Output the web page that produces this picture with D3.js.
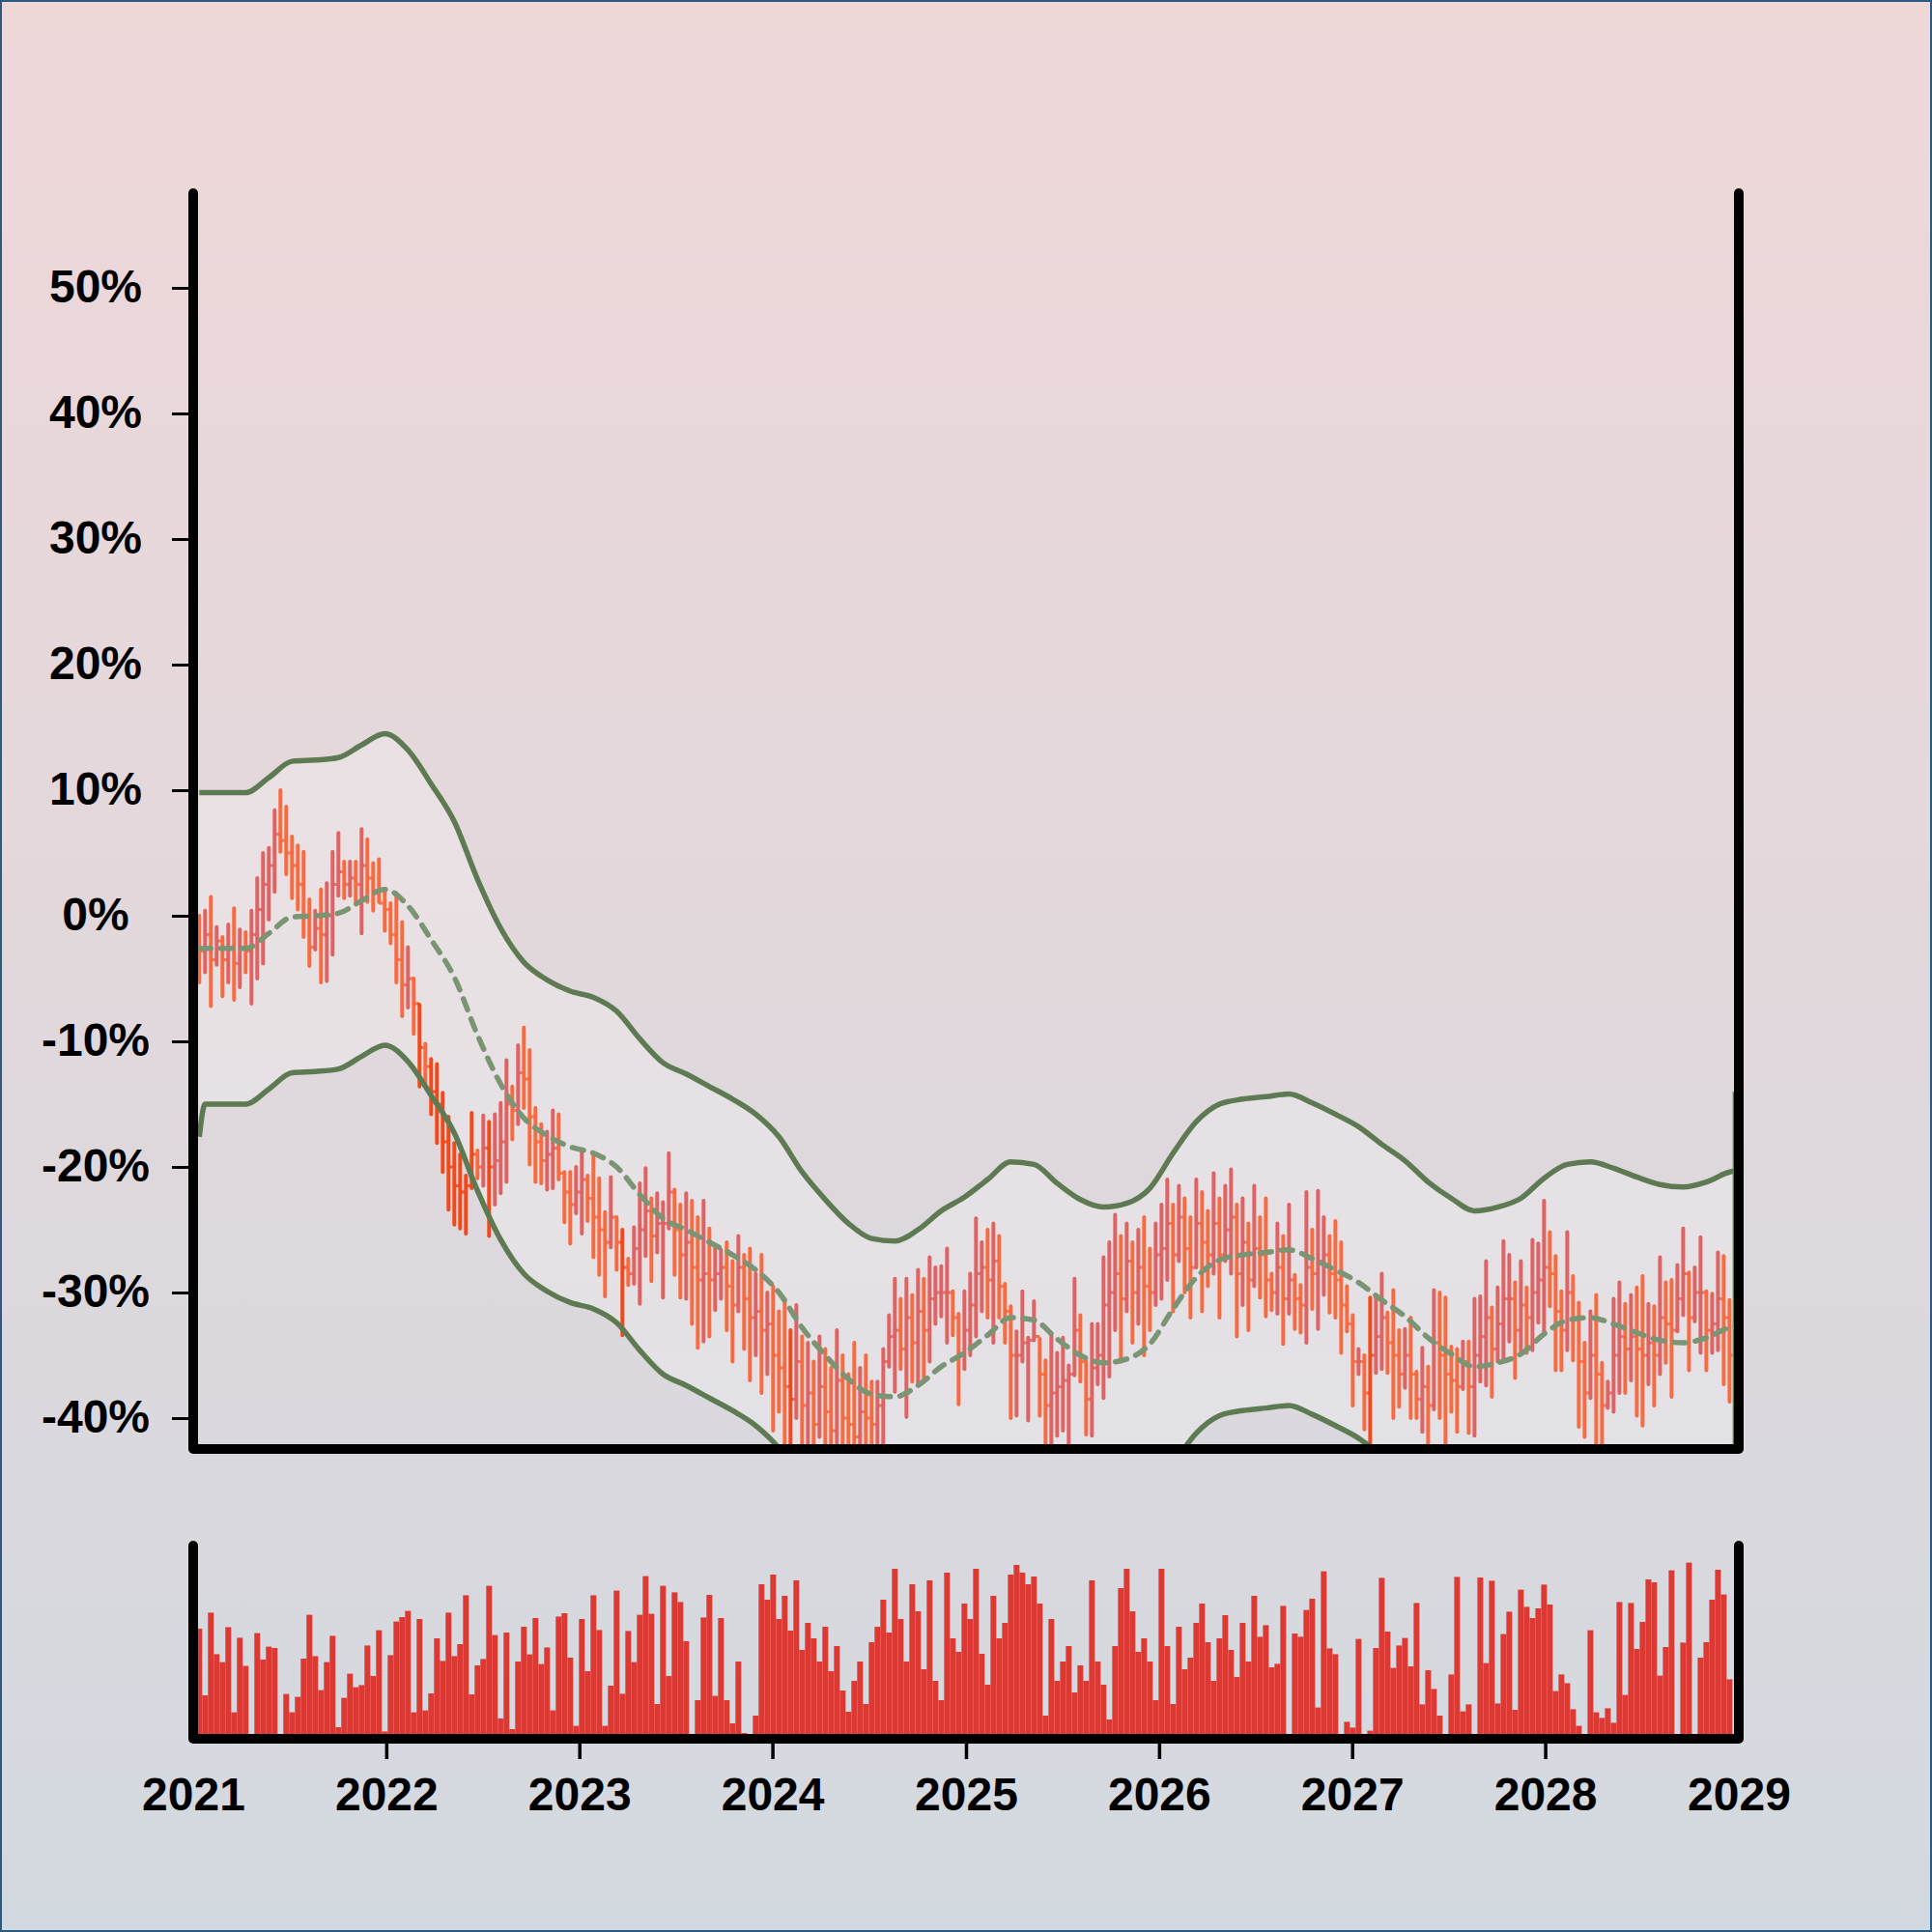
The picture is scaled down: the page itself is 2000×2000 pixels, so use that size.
<!DOCTYPE html>
<html><head><meta charset="utf-8">
<script src="https://cdn.jsdelivr.net/npm/d3@7"></script>
<style>html,body{margin:0;padding:0;background:#fff}svg{display:block}</style>
</head><body>
<svg id="chart" width="2000" height="2000"></svg>
<script>
// ---------- DATA ----------
const startDate = Date.UTC(2021, 0, 12, 12);
const stepHours = 263;
const firstOpen = -2.0;
const high = [
0.0,0.4,1.5,-0.9,-1.7,-0.7,0.6,-1.1,-1.3,0.4,
3.0,5.0,5.4,8.4,10.0,8.7,6.3,5.6,5.1,1.3,
0.4,2.1,2.6,5.1,6.6,4.3,4.3,4.3,6.9,6.1,
4.2,4.5,2.0,1.0,1.8,-0.5,-2.5,-5.0,-7.1,-10.2,
-11.4,-11.8,-14.1,-16.0,-18.1,-19.0,-20.7,-15.7,-18.7,-15.9,
-16.4,-15.8,-14.9,-11.5,-13.6,-10.3,-8.9,-10.7,-15.3,-16.6,
-17.2,-15.5,-15.8,-20.4,-20.4,-20.0,-18.6,-20.7,-18.9,-20.9,
-23.6,-20.8,-24.0,-25.0,-27.3,-24.8,-21.3,-20.1,-22.5,-22.1,
-22.8,-18.9,-21.8,-23.0,-22.1,-22.7,-24.0,-22.7,-24.9,-26.3,
-26.6,-26.0,-27.5,-25.5,-27.0,-26.5,-28.5,-27.0,-30.0,-29.5,
-31.5,-30.5,-33.0,-31.0,-33.5,-34.0,-35.5,-33.5,-34.5,-36.0,
-33.0,-35.0,-36.5,-34.0,-36.0,-35.0,-37.1,-37.1,-34.5,-31.8,
-28.9,-30.5,-28.9,-30.2,-28.2,-28.9,-27.2,-28.0,-27.9,-26.5,
-29.9,-31.7,-29.9,-28.5,-24.1,-26.0,-25.0,-24.5,-25.5,-29.3,
-31.1,-33.1,-29.9,-33.6,-30.7,-33.7,-35.4,-33.4,-34.8,-33.6,
-35.8,-28.9,-31.8,-35.5,-32.5,-32.5,-27.2,-26.0,-23.8,-25.5,
-24.5,-26.0,-25.0,-24.0,-26.5,-24.5,-23.0,-21.0,-23.0,-21.5,
-22.5,-24.0,-21.0,-22.0,-23.5,-20.5,-22.5,-21.5,-20.2,-23.0,
-22.5,-24.5,-21.5,-24.0,-22.5,-28.5,-24.5,-25.5,-23.0,-28.6,
-29.4,-22.0,-25.0,-21.9,-24.0,-25.5,-24.3,-26.0,-29.5,-31.8,
-34.5,-35.0,-30.4,-30.4,-28.5,-31.6,-29.8,-33.0,-32.9,-32.0,
-36.3,-34.4,-35.9,-29.8,-30.0,-30.4,-34.3,-34.5,-33.9,-33.9,
-30.5,-30.3,-27.5,-31.2,-29.6,-25.9,-27.0,-29.2,-27.5,-29.6,
-25.8,-26.1,-22.7,-25.2,-27.1,-29.9,-25.2,-28.7,-30.8,-34.0,
-31.5,-30.2,-35.6,-37.1,-30.5,-29.2,-30.9,-30.2,-29.6,-28.7,
-30.9,-31.1,-27.2,-29.2,-29.0,-27.8,-24.9,-28.4,-28.0,-25.6,
-29.9,-30.1,-26.8,-27.1,-30.6];
const low = [
-5.3,-4.5,-7.2,-3.9,-6.4,-5.3,-6.7,-5.7,-4.5,-7.0,
-5.0,-3.8,-0.3,1.9,5.1,3.3,1.4,0.5,-1.7,-4.0,
-2.7,-5.3,-5.2,-3.1,1.6,1.4,1.6,0.9,-1.4,1.1,
0.4,1.1,-1.2,-2.2,-5.3,-8.0,-7.3,-9.4,-13.6,-13.4,
-15.8,-18.1,-20.4,-23.4,-24.6,-24.9,-25.3,-21.7,-20.9,-21.5,
-25.5,-23.0,-22.1,-21.2,-17.8,-16.6,-15.3,-19.8,-21.2,-21.3,
-21.8,-21.7,-21.0,-24.4,-26.1,-23.7,-25.3,-24.3,-27.2,-28.6,
-30.3,-26.4,-28.2,-33.4,-29.4,-29.3,-30.9,-27.1,-29.1,-26.8,
-30.4,-24.9,-28.6,-30.4,-30.5,-32.5,-34.4,-33.9,-33.5,-31.4,
-30.5,-33.0,-35.5,-31.5,-34.5,-37.0,-35.0,-38.0,-36.5,-41.0,
-39.5,-42.5,-44.0,-40.0,-45.0,-43.0,-46.0,-41.5,-44.5,-47.0,
-42.0,-45.0,-44.0,-46.5,-43.5,-45.5,-44.0,-42.0,-43.0,-35.9,
-37.9,-36.1,-39.9,-37.1,-37.3,-36.8,-35.5,-32.5,-31.9,-34.0,
-33.4,-38.9,-36.1,-35.0,-33.5,-31.5,-32.0,-34.0,-32.0,-34.0,
-40.0,-39.8,-35.5,-40.2,-33.8,-39.8,-43.5,-43.0,-41.4,-41.0,
-44.0,-36.6,-37.1,-41.3,-41.4,-37.3,-38.4,-36.7,-33.0,-35.5,
-31.5,-34.0,-32.5,-35.0,-33.0,-31.0,-30.5,-29.0,-31.5,-27.5,
-30.0,-32.0,-28.0,-31.5,-29.5,-28.5,-32.0,-27.5,-28.5,-33.5,
-31.0,-33.0,-29.5,-30.4,-31.9,-31.4,-31.7,-34.1,-31.7,-32.9,
-33.2,-34.0,-31.3,-32.9,-30.2,-31.6,-32.0,-34.8,-33.1,-39.0,
-36.5,-40.9,-43.0,-36.4,-36.1,-36.4,-40.0,-39.1,-37.6,-40.0,
-40.0,-41.1,-43.0,-39.3,-40.0,-43.0,-39.5,-41.1,-37.7,-41.2,
-41.4,-37.1,-37.4,-38.3,-35.5,-35.4,-33.9,-36.8,-34.9,-34.8,
-34.6,-32.4,-33.1,-31.1,-36.2,-36.2,-34.6,-35.4,-40.7,-41.5,
-38.4,-43.0,-43.5,-39.2,-39.5,-38.0,-38.0,-37.0,-39.8,-40.6,
-37.3,-39.0,-36.5,-35.6,-38.3,-33.1,-31.8,-36.2,-32.3,-34.8,
-36.2,-34.8,-34.6,-37.3,-38.7];
const close = [
-2.8,-1.5,-3.5,-2.0,-3.5,-2.5,-3.8,-2.5,-2.8,-1.5,
0.5,2.5,4.0,6.5,6.0,5.0,4.0,2.5,0.0,-2.5,
-1.0,-1.5,0.0,2.5,3.5,2.5,3.0,2.5,4.0,3.0,
2.0,1.0,0.5,-1.5,-3.5,-5.5,-5.0,-7.0,-10.5,-12.0,
-14.0,-15.0,-18.0,-20.0,-21.5,-22.0,-21.5,-19.0,-20.0,-18.5,
-20.0,-19.5,-18.0,-15.0,-15.5,-12.5,-13.0,-16.0,-18.0,-19.5,
-19.0,-18.5,-20.5,-22.0,-23.0,-22.0,-21.0,-22.5,-24.0,-25.0,
-26.0,-24.0,-26.0,-28.0,-28.5,-26.5,-25.0,-23.5,-25.5,-24.5,
-24.5,-22.0,-25.0,-27.0,-26.0,-28.0,-29.0,-28.5,-29.0,-28.5,
-28.0,-29.5,-31.0,-28.0,-30.5,-32.0,-31.5,-33.0,-32.5,-35.0,
-36.0,-37.5,-38.5,-35.5,-39.0,-38.0,-40.5,-37.5,-39.5,-41.0,
-37.0,-40.0,-40.5,-41.5,-39.5,-40.0,-40.5,-39.0,-35.5,-33.5,
-33.0,-34.5,-32.0,-34.0,-31.5,-33.0,-30.5,-30.0,-30.0,-30.0,
-32.0,-35.0,-33.0,-31.0,-28.5,-28.0,-29.0,-27.5,-29.5,-31.5,
-35.0,-35.0,-34.0,-33.8,-33.5,-36.5,-39.0,-38.0,-37.5,-37.0,
-36.5,-33.0,-35.5,-38.5,-36.0,-35.0,-31.0,-30.0,-28.5,-30.5,
-27.5,-30.0,-28.0,-29.5,-30.0,-27.0,-26.5,-24.5,-27.0,-24.0,
-26.5,-28.0,-24.5,-26.0,-27.0,-24.5,-27.0,-25.0,-24.0,-28.5,
-26.0,-29.0,-26.5,-27.0,-29.0,-30.0,-28.0,-30.5,-29.0,-30.5,
-31.0,-28.0,-28.5,-27.5,-27.0,-28.5,-29.0,-31.0,-32.5,-35.5,
-35.5,-38.0,-35.0,-33.5,-32.0,-34.0,-35.0,-36.5,-35.0,-36.5,
-38.5,-37.5,-39.0,-34.0,-35.0,-36.5,-37.0,-37.5,-35.5,-37.5,
-35.0,-33.5,-32.0,-34.5,-32.5,-30.5,-30.5,-33.0,-31.0,-32.0,
-30.0,-29.0,-28.0,-28.5,-31.5,-33.0,-30.0,-32.0,-35.5,-38.0,
-35.0,-36.5,-39.0,-38.0,-35.0,-33.5,-34.5,-33.5,-34.5,-35.0,
-34.0,-35.0,-32.0,-32.5,-33.0,-30.5,-28.5,-32.0,-30.0,-30.0,
-33.0,-32.5,-30.5,-32.0,-35.0];
const volume = [
57,22.5,65.3,43.8,39.7,57.8,13.7,52.3,37.7,0,
54.7,41,47.7,47,0,23.2,13.7,21.7,41.5,64.2,
42.8,25.2,39.7,53.3,6,21.2,33.7,26.7,27.8,48.3,
32.5,56.2,3.8,43.3,60.7,63,66.2,13.7,62,14.7,
23.5,52,40.3,65.3,42.8,49,74.3,23,38,41.3,
79.2,53.7,10.5,55,5,40,58,43.7,62.5,38.7,
47.3,14.7,63.3,65,42,6.7,62,35,74.3,56.3,
6.7,27.5,76.7,23.3,55.8,39.7,64.2,84.2,64.7,18,
79.2,32.5,75.8,70.8,50.5,0,20,62.8,74.5,22.2,
62.5,20,8,40,3,0,12,80,72,85,
62,74,56,82,46,60,52,40,58,35,
48,25,14,30,40,18,50,58,72,55,
88,62,40,80,66,36,82,30,20,86,
52,45,70,62,88,44,28,74,52,60,
85,90,86,80,84,70,12,62,30,40,
48,24,38,30,82,40,28,10,48,78,
88,66,45,52,40,20,88,48,18,58,
36,42,60,70,50,30,52,64,46,32,
60,40,74,
52.8,58.8,37,38.8,68.8,0,54.5,52.8,66.7,72.5,
16.2,86.7,46.8,43.8,0,8.8,5.8,51.7,0,4.2,
47,83.3,55.5,36.7,48.3,52.2,37.5,70.3,17.8,35.5,
25.8,12,0,33.3,83.8,14.2,17.8,0,83.5,39.2,
81.8,18.3,54.2,65.8,15,77.2,68.3,62.5,67.5,79.8,
69.5,24.7,33.3,28.8,15.3,6.7,0,56.2,13.7,10.8,
15.8,8.3,70.8,22.7,70.3,46.5,60.5,82.5,81,32.7,
47.5,87.2,0,49.8,91.2,0,42,50,72,87.5,
74.7,30.8];
// band (envelope) samples, by candle index
const bandIdx = [0, 1].concat(d3.range(4, 265, 4), [265]);
const bandMid = [-2.6,-2.6,-2.6,-2.6,-1.4,-0.1,0.0,0.2,1.2,2.1,0.8,-1.9,-4.9,-9.5,-13.4,-16.1,-17.5,-18.4,-18.9,-20.0,
-22.2,-24.1,-25.0,-26.0,-27.0,-28.2,-30.0,-32.8,-35.0,-36.9,-38.1,-38.3,-37.4,-35.9,-34.8,-33.4,-32.0,-32.2,-33.7,-35.0,
-35.6,-35.3,-34.1,-31.3,-28.8,-27.4,-27.0,-26.8,-26.6,-27.3,-28.2,-29.2,-30.6,-31.9,-33.6,-34.9,-35.9,-35.6,-34.9,-33.3,
-32.2,-32.0,-32.5,-33.2,-33.8,-34.0,-33.6,-32.8,-32.7];
const bandUpper = [9.8,9.8,9.8,9.8,11.0,12.3,12.4,12.6,13.6,14.5,13.2,10.5,7.5,2.9,-1.0,-3.7,-5.1,-6.0,-6.5,-7.6,
-9.8,-11.7,-12.6,-13.6,-14.6,-15.8,-17.6,-20.4,-22.6,-24.5,-25.7,-25.9,-25.0,-23.5,-22.4,-21.0,-19.6,-19.8,-21.3,-22.6,
-23.2,-22.9,-21.7,-18.9,-16.4,-15.0,-14.6,-14.4,-14.2,-14.9,-15.8,-16.8,-18.2,-19.5,-21.2,-22.5,-23.5,-23.2,-22.5,-20.9,
-19.8,-19.6,-20.1,-20.8,-21.4,-21.6,-21.2,-20.4,-20.3];
const bandLower = [-17.6,-15.0,-15.0,-15.0,-13.8,-12.5,-12.4,-12.2,-11.2,-10.3,-11.6,-14.3,-17.3,-21.9,-25.8,-28.5,-29.9,-30.8,-31.3,-32.4,
-34.6,-36.5,-37.4,-38.4,-39.4,-40.6,-42.4,-45.2,-47.4,-49.3,-50.5,-50.7,-49.8,-48.3,-47.2,-45.8,-44.4,-44.6,-46.1,-47.4,
-48.0,-47.7,-46.5,-43.7,-41.2,-39.8,-39.4,-39.2,-39.0,-39.7,-40.6,-41.6,-43.0,-44.3,-46.0,-47.3,-48.3,-48.0,-47.3,-45.7,
-44.6,-44.4,-44.9,-45.6,-46.2,-46.4,-46.0,-45.2,-45.1];
const lowerTailEnd = -14.0;
const yTicks = [-40,-30,-20,-10,0,10,20,30,40,50];
const xTickYears = [2021,2022,2023,2024,2025,2026,2027,2028,2029];

// ---------- CHART ----------
const W = 2000, H = 2000;
const FONT = "'Liberation Sans', Arial, Helvetica, sans-serif";
const svg = d3.select("#chart");
const defs = svg.append("defs");
const grad = defs.append("linearGradient").attr("id","bg").attr("x1",0).attr("y1",0).attr("x2",0).attr("y2",1);
grad.append("stop").attr("offset","0%").attr("stop-color","#efd7d8");
grad.append("stop").attr("offset","100%").attr("stop-color","#d3d9e0");
svg.append("rect").attr("width",W).attr("height",H).attr("fill","url(#bg)");
defs.append("clipPath").attr("id","plotClip").append("rect")
  .attr("x",200).attr("y",0).attr("width",1600).attr("height",1500);

const dateAt = k => new Date(startDate + k * stepHours * 3600e3);
const x = d3.scaleUtc().domain([new Date(Date.UTC(2021,0,1)), new Date(Date.UTC(2029,0,1))]).range([200,1800]);
const y = d3.scaleLinear().domain([-42.46, 57.54]).range([1500, 200]);
const yv = d3.scaleLinear().domain([0, 100]).range([1800, 1600]);

const plot = svg.append("g").attr("clip-path","url(#plotClip)");
const band = bandIdx.map((k,j) => ({x: x(dateAt(k)), u: bandUpper[j], m: bandMid[j], l: bandLower[j]}));

plot.append("path").datum(band)
  .attr("d", d3.area().x(d=>d.x).y0(d=>y(d.l)).y1(d=>y(d.u)).curve(d3.curveMonotoneX))
  .attr("fill","rgba(255,255,255,0.24)");

// candles (OHLC)
const lowerAt = d3.scaleLinear().domain(bandIdx).range(bandLower);
const candles = high.map((h,i) => ({
  i, x: x(dateAt(i)), h, l: low[i], c: close[i], o: i === 0 ? firstOpen : close[i-1]
}));
const cColor = d => d.l < lowerAt(d.i) ? "#f2481a" : (d.c >= d.o ? "#e06262" : "#f86a40");
const cg = plot.append("g");
cg.selectAll("line.wick").data(candles).join("line").attr("class","wick")
  .attr("x1",d=>d.x).attr("x2",d=>d.x).attr("y1",d=>y(d.h)).attr("y2",d=>y(d.l))
  .attr("stroke",cColor).attr("stroke-width",4).attr("stroke-linecap","round");
cg.selectAll("line.open").data(candles).join("line").attr("class","open")
  .attr("x1",d=>d.x-3).attr("x2",d=>d.x).attr("y1",d=>y(d.o)).attr("y2",d=>y(d.o))
  .attr("stroke",cColor).attr("stroke-width",3);
cg.selectAll("line.close").data(candles).join("line").attr("class","close")
  .attr("x1",d=>d.x).attr("x2",d=>d.x+3).attr("y1",d=>y(d.c)).attr("y2",d=>y(d.c))
  .attr("stroke",cColor).attr("stroke-width",3);

// band lines
const lineU = d3.line().x(d=>d.x).y(d=>y(d.u)).curve(d3.curveMonotoneX);
const lineL = d3.line().x(d=>d.x).y(d=>y(d.l)).curve(d3.curveMonotoneX);
const lineM = d3.line().x(d=>d.x).y(d=>y(d.m)).curve(d3.curveMonotoneX);
const bandColor = "#5e7a53";
plot.append("path").datum(band).attr("d",lineU).attr("fill","none").attr("stroke",bandColor).attr("stroke-width",5.5).attr("stroke-linejoin","round");
plot.append("path").datum(band).attr("d",lineL).attr("fill","none").attr("stroke",bandColor).attr("stroke-width",5.5).attr("stroke-linejoin","round");
const last = band[band.length-1];
plot.append("path").datum([last, {x:last.x, l:lowerTailEnd}]).attr("d", d3.line().x(d=>d.x).y(d=>y(d.l)))
  .attr("fill","none").attr("stroke",bandColor).attr("stroke-width",5.5);
plot.append("path").datum(band).attr("d",lineM).attr("fill","none").attr("stroke","#7a9474")
  .attr("stroke-width",5.5).attr("stroke-dasharray","12,10").attr("stroke-linecap","round");

// volume bars
svg.append("g").selectAll("rect").data(volume.map((v,i)=>({v, x: x(dateAt(i))}))).join("rect")
  .attr("x",d=>d.x-3).attr("width",6).attr("y",d=>yv(d.v)).attr("height",d=>1800-yv(d.v))
  .attr("fill","#db3a34");

// axes frames
const frame = (top, bottom) => `M200,${top}L200,${bottom}L1800,${bottom}L1800,${top}`;
svg.append("path").attr("d",frame(200,1500)).attr("fill","none").attr("stroke","#000")
  .attr("stroke-width",10).attr("stroke-linecap","round").attr("stroke-linejoin","round");
svg.append("path").attr("d",frame(1600,1800)).attr("fill","none").attr("stroke","#000")
  .attr("stroke-width",10).attr("stroke-linecap","round").attr("stroke-linejoin","round");

// y axis
const ya = svg.append("g").attr("transform","translate(200,0)")
  .call(d3.axisLeft(y).tickValues(yTicks).tickSize(22).tickFormat(d => d + "%"));
ya.select(".domain").remove();
ya.selectAll(".tick line").attr("stroke","#000").attr("stroke-width",3);
ya.selectAll(".tick text").attr("x",-101).attr("dy","0.3em").attr("text-anchor","middle")
  .attr("fill","#000").style("font-family",FONT).style("font-weight","700").style("font-size","48px");

// x axis
const xa = svg.append("g").attr("transform","translate(0,1800)")
  .call(d3.axisBottom(x).tickValues(xTickYears.map(yr => new Date(Date.UTC(yr,0,1))))
    .tickFormat(d3.utcFormat("%Y")).tickSize(21));
xa.select(".domain").remove();
xa.selectAll(".tick line").attr("stroke","#000").attr("stroke-width",3.5)
  .attr("opacity",(d,i,n)=> (i===0 || i===n.length-1) ? 0 : 1);
xa.selectAll(".tick text").attr("y",74).attr("dy",0).attr("fill","#000")
  .style("font-family",FONT).style("font-weight","700").style("font-size","48px");

// border
svg.append("rect").attr("x",1).attr("y",1).attr("width",W-2).attr("height",H-2)
  .attr("fill","none").attr("stroke","#2c5b82").attr("stroke-width",2);
</script>
</body></html>
